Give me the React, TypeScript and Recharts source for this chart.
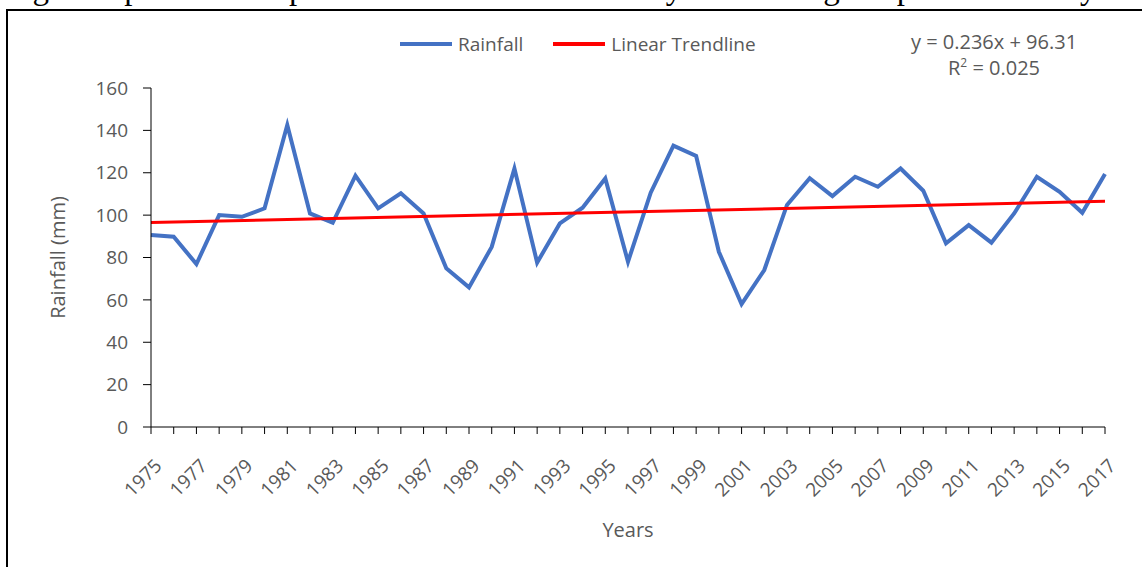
import { LineChart, Line, XAxis, YAxis } from "recharts"

const years = [
  "1975", "1976", "1977", "1978", "1979", "1980", "1981", "1982", "1983", "1984",
  "1985", "1986", "1987", "1988", "1989", "1990", "1991", "1992", "1993", "1994",
  "1995", "1996", "1997", "1998", "1999", "2000", "2001", "2002", "2003", "2004",
  "2005", "2006", "2007", "2008", "2009", "2010", "2011", "2012", "2013", "2014",
  "2015", "2016", "2017",
]

const rainfall = [
  90.6, 89.8, 76.9, 100.0, 99.2, 103.2, 142.5, 100.8, 96.4, 118.6,
  103.2, 110.3, 100.8, 74.9, 65.9, 85.0, 122.0, 77.6, 96.1, 103.5,
  117.3, 78.0, 110.6, 132.8, 127.9, 82.7, 58.0, 74.1, 104.8, 117.4,
  109.0, 118.1, 113.4, 122.0, 111.5, 86.7, 95.3, 87.0, 100.8, 118.1,
  111.0, 101.1, 119.4,
]

// trendline end values (y = 0.236x + 96.31), only first and last year are drawn
const trendStart = 96.5
const trendEnd = 106.5

const yTicks = [0, 20, 40, 60, 80, 100, 120, 140, 160]

const data = years.map((year, i) => ({
  year,
  rainfall: rainfall[i],
  trend: i === 0 ? trendStart : i === years.length - 1 ? trendEnd : null,
}))

const FONT = "'Open Sans', sans-serif"
const GREY = "#595959"

const YearTick = (props: any) => {
  const { x, y, payload, index } = props
  if (index % 2 !== 0) return null
  const ax = x + 12
  const ay = y + 31
  return (
    <text
      x={ax}
      y={ay}
      transform={`rotate(-45 ${ax} ${ay})`}
      textAnchor="end"
      fill={GREY}
      fontSize={19}
      fontFamily={FONT}
    >
      {payload.value}
    </text>
  )
}

export default function App() {
  return (
    <div style={{ position: "absolute", left: 0, top: 0, width: 1142, height: 567, overflow: "hidden", background: "#fff" }}>
      <div
        style={{
          position: "absolute",
          left: 5,
          top: -28,
          whiteSpace: "nowrap",
          fontFamily: "'Liberation Serif', serif",
          fontSize: 33,
          lineHeight: "33px",
          color: "#000",
        }}
      >
        Figure 4 presents the pattern of rainfall in the study area during the period of study.
      </div>
      <div
        style={{
          position: "absolute",
          left: 6,
          top: 9,
          width: 1160,
          height: 600,
          border: "2px solid #000",
          boxSizing: "border-box",
        }}
      />
      <div style={{ position: "absolute", left: 0, top: 0 }}>
        <LineChart width={1142} height={567} data={data} margin={{ top: 88, right: 37, left: 0, bottom: 0 }}>
          <XAxis
            dataKey="year"
            interval={0}
            height={140}
            tickSize={7}
            tickMargin={2}
            stroke="#000"
            tick={<YearTick />}
            label={{
              content: (p: any) => (
                <text
                  x={p.viewBox.x + p.viewBox.width / 2}
                  y={537}
                  textAnchor="middle"
                  fill={GREY}
                  fontSize={20}
                  fontFamily={FONT}
                >
                  Years
                </text>
              ),
            }}
          />
          <YAxis
            domain={[0, 160]}
            ticks={yTicks}
            width={151}
            tickSize={8}
            tickMargin={15}
            stroke="#000"
            tick={{ fill: GREY, fontSize: 19, fontFamily: FONT }}
            label={{
              content: (p: any) => {
                const cx = 57
                const cy = p.viewBox.y + p.viewBox.height / 2
                return (
                  <text
                    x={cx}
                    y={cy}
                    transform={`rotate(-90 ${cx} ${cy})`}
                    textAnchor="middle"
                    dominantBaseline="central"
                    fill={GREY}
                    fontSize={20}
                    fontFamily={FONT}
                  >
                    Rainfall (mm)
                  </text>
                )
              },
            }}
          />
          <Line
            dataKey="rainfall"
            name="Rainfall"
            stroke="#4472C4"
            strokeWidth={4}
            dot={false}
            strokeLinejoin="miter"
            isAnimationActive={false}
          />
          <Line
            dataKey="trend"
            name="Linear Trendline"
            stroke="#FF0000"
            strokeWidth={3}
            dot={false}
            connectNulls
            isAnimationActive={false}
          />
        </LineChart>
      </div>
      <div
        style={{
          position: "absolute",
          left: 400,
          top: 31,
          display: "flex",
          alignItems: "center",
          fontFamily: FONT,
          fontSize: 19,
          color: GREY,
        }}
      >
        <div style={{ width: 52, height: 4, background: "#4472C4", marginRight: 6 }} />
        <span>Rainfall</span>
        <div style={{ width: 52, height: 4, background: "#FF0000", marginLeft: 30, marginRight: 6 }} />
        <span>Linear Trendline</span>
      </div>
      <div
        style={{
          position: "absolute",
          left: 994,
          top: 29,
          transform: "translateX(-50%)",
          textAlign: "center",
          fontFamily: FONT,
          fontSize: 20,
          lineHeight: "26px",
          color: GREY,
          whiteSpace: "nowrap",
        }}
      >
        <div>y = 0.236x + 96.31</div>
        <div>
          R<sup style={{ fontSize: 12, verticalAlign: "top", lineHeight: "16px" }}>2</sup> = 0.025
        </div>
      </div>
    </div>
  )
}
